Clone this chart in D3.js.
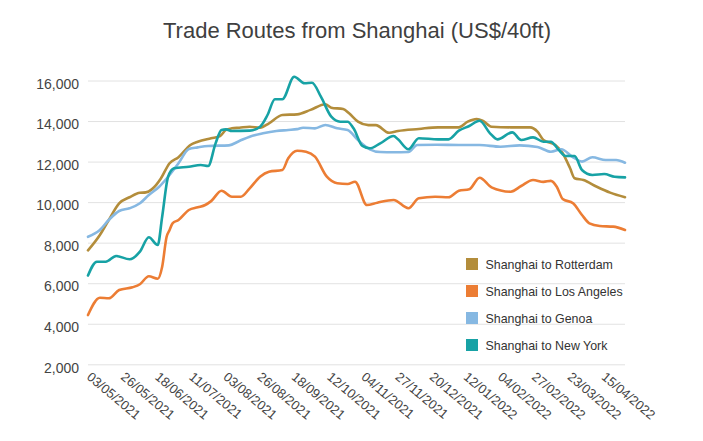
<!DOCTYPE html>
<html>
<head>
<meta charset="utf-8">
<script src="https://cdn.jsdelivr.net/npm/d3@7/dist/d3.min.js"></script>
<style>
  html, body { margin: 0; padding: 0; background: #fff; }
  svg { display: block; font-family: "Liberation Sans", Arial, sans-serif; }
</style>
</head>
<body>
<svg id="chart" width="703" height="441"></svg>
<script>
// ---------- DATA ----------
const chartTitle = "Trade Routes from Shanghai (US$/40ft)";
const seriesNames = ["Shanghai to Rotterdam", "Shanghai to Los Angeles", "Shanghai to Genoa", "Shanghai to New York"];
const seriesColors = ["#b38d3b", "#ec7d34", "#86b8e2", "#17a2a5"];

const xTickLabels = ["03/05/2021","26/05/2021","18/06/2021","11/07/2021","03/08/2021","26/08/2021","18/09/2021",
  "12/10/2021","04/11/2021","27/11/2021","20/12/2021","12/01/2022","04/02/2022","27/02/2022","23/03/2022","15/04/2022"];
const yTickValues = [2000, 4000, 6000, 8000, 10000, 12000, 14000, 16000];
const xDomain = ["2021-05-03", "2022-04-30"];

const rotterdamDates = ["2021-05-03","2021-05-11","2021-05-17","2021-05-24","2021-05-31","2021-06-07","2021-06-11","2021-06-15",
  "2021-06-18","2021-06-21","2021-06-27","2021-07-03","2021-07-11","2021-07-16","2021-07-25","2021-07-31","2021-08-04","2021-08-08",
  "2021-08-13","2021-08-20","2021-08-27","2021-09-02","2021-09-11","2021-09-21","2021-09-30","2021-10-10","2021-10-14","2021-10-22",
  "2021-10-26","2021-11-01","2021-11-08","2021-11-13","2021-11-22","2021-11-28","2021-12-12","2021-12-25","2022-01-08","2022-01-14",
  "2022-01-20","2022-01-24","2022-01-30","2022-02-12","2022-02-25","2022-03-02","2022-03-06","2022-03-14","2022-03-19","2022-03-24",
  "2022-03-27","2022-04-02","2022-04-11","2022-04-20","2022-04-30"];
const rotterdamValues = [7620,8380,9120,9940,10240,10460,10480,10630,
  10850,11150,11920,12220,12820,12980,13150,13260,13560,13640,
  13670,13720,13670,13890,14300,14330,14550,14830,14660,14590,
  14380,13970,13800,13800,13420,13510,13610,13690,13690,13970,
  14100,14020,13720,13690,13690,13480,13070,12820,12410,11670,
  11180,11090,10760,10470,10240];

const laDates = ["2021-05-03","2021-05-11","2021-05-17","2021-05-24","2021-06-02","2021-06-07","2021-06-13","2021-06-19",
  "2021-06-22","2021-06-25","2021-06-27","2021-06-29","2021-07-03","2021-07-10","2021-07-16","2021-07-21","2021-07-25","2021-08-01",
  "2021-08-08","2021-08-14","2021-08-20","2021-08-27","2021-09-02","2021-09-11","2021-09-15","2021-09-21","2021-09-27","2021-10-03",
  "2021-10-11","2021-10-18","2021-10-25","2021-10-30","2021-11-07","2021-11-14","2021-11-25","2021-12-05","2021-12-12","2021-12-23",
  "2022-01-01","2022-01-08","2022-01-15","2022-01-22","2022-01-30","2022-02-12","2022-02-19","2022-02-27","2022-03-06","2022-03-11",
  "2022-03-15","2022-03-19","2022-03-26","2022-04-01","2022-04-06","2022-04-13","2022-04-22","2022-04-30"];
const laValues = [4430,5285,5256,5665,5800,5950,6340,6220,
  6815,8290,8625,8955,9118,9612,9745,9860,10050,10564,
  10268,10268,10682,11254,11501,11585,12162,12537,12488,12241,
  11254,10929,10894,11008,9859,9973,10105,9700,10190,10268,
  10238,10564,10633,11205,10731,10515,10796,11092,11000,11050,
  10761,10154,9943,9365,8955,8822,8790,8625];

const genoaDates = ["2021-05-03","2021-05-11","2021-05-17","2021-05-24","2021-05-31","2021-06-07","2021-06-13","2021-06-20",
  "2021-06-27","2021-07-03","2021-07-10","2021-07-16","2021-07-23","2021-08-06","2021-08-13","2021-08-20","2021-08-29","2021-09-07",
  "2021-09-15","2021-09-21","2021-09-25","2021-10-03","2021-10-10","2021-10-18","2021-10-25","2021-11-01","2021-11-09","2021-11-16",
  "2021-11-25","2021-12-05","2021-12-11","2021-12-24","2022-01-08","2022-01-22","2022-02-05","2022-02-18","2022-03-02","2022-03-11",
  "2022-03-18","2022-03-26","2022-04-01","2022-04-08","2022-04-17","2022-04-24","2022-04-30"];
const genoaValues = [8290,8625,9118,9563,9696,9943,10352,10761,
  11338,11916,12620,12700,12770,12800,13015,13228,13395,13509,
  13558,13600,13672,13640,13805,13640,13560,13065,12606,12470,
  12460,12470,12818,12830,12818,12818,12735,12800,12720,12488,
  12606,12211,11998,12211,12078,12078,11945];

const nyDates = ["2021-05-03","2021-05-09","2021-05-15","2021-05-22","2021-05-31","2021-06-07","2021-06-13","2021-06-19",
  "2021-06-22","2021-06-26","2021-06-30","2021-07-10","2021-07-18","2021-07-23","2021-07-28","2021-08-01","2021-08-04","2021-08-08",
  "2021-08-20","2021-08-27","2021-09-01","2021-09-06","2021-09-11","2021-09-19","2021-09-26","2021-10-01","2021-10-07","2021-10-14",
  "2021-10-20","2021-10-25","2021-10-29","2021-11-04","2021-11-09","2021-11-16","2021-11-25","2021-11-28","2021-12-05","2021-12-12",
  "2021-12-25","2022-01-01","2022-01-08","2022-01-15","2022-01-22","2022-01-29","2022-02-03","2022-02-13","2022-02-19","2022-02-27",
  "2022-03-06","2022-03-11","2022-03-16","2022-03-21","2022-03-27","2022-04-01","2022-04-08","2022-04-16","2022-04-23","2022-04-30"];
const nyValues = [6380,7062,7062,7343,7180,7555,8265,7885,
  9282,11254,11669,11748,11832,11782,12900,13558,13590,13509,
  13525,13722,14298,15072,15072,16187,15862,15892,15201,14214,
  13968,13968,13642,12770,12656,12900,13262,13098,12606,13148,
  13098,13098,13525,13755,14017,13395,13098,13443,13065,13195,
  12982,12982,12606,12277,12277,11585,11338,11386,11254,11222];

// ---------- CHART ----------
const parseISO = d3.timeParse("%Y-%m-%d");
const parseLabel = d3.timeParse("%d/%m/%Y");
const formatLabel = d3.timeFormat("%d/%m/%Y");

const seriesDates = [rotterdamDates, laDates, genoaDates, nyDates];
const seriesValues = [rotterdamValues, laValues, genoaValues, nyValues];
const series = seriesNames.map((name, i) => ({
  name, color: seriesColors[i],
  points: seriesDates[i].map((d, j) => ({ date: parseISO(d), value: seriesValues[i][j] }))
}));

const svg = d3.select("#chart");
const plotLeft = 88, plotRight = 625, plotTop = 80.5, plotBottom = 364.3;

const x = d3.scaleTime().domain(xDomain.map(parseISO)).range([plotLeft, plotRight]);
const y = d3.scaleLinear().domain([2000, 16000]).range([plotBottom, plotTop]);

// title
svg.append("text")
  .attr("x", 357).attr("y", 38)
  .attr("text-anchor", "middle")
  .attr("font-size", 22)
  .attr("fill", "#404040")
  .text(chartTitle);

// y axis with gridlines
const yAxis = svg.append("g")
  .attr("transform", `translate(${plotLeft},0)`)
  .call(d3.axisLeft(y).tickValues(yTickValues).tickFormat(d3.format(","))
    .tickSize(-(plotRight - plotLeft)).tickPadding(9));
yAxis.select(".domain").remove();
yAxis.selectAll(".tick line").attr("stroke", "#e2e2e2").attr("stroke-width", 1);
yAxis.selectAll(".tick text")
  .attr("font-size", 14).attr("fill", "#444")
  .attr("font-family", "Liberation Sans, Arial, sans-serif")
  .attr("dy", "0.55em");

// x axis
const xAxis = svg.append("g")
  .attr("transform", `translate(0,${plotBottom})`)
  .call(d3.axisBottom(x).tickValues(xTickLabels.map(parseLabel)).tickFormat(formatLabel).tickSize(0));
xAxis.select(".domain").remove();
xAxis.selectAll(".tick text")
  .attr("font-size", 13).attr("fill", "#444")
  .attr("font-family", "Liberation Sans, Arial, sans-serif")
  .attr("x", 0).attr("y", 0).attr("dy", 0)
  .attr("text-anchor", "start")
  .attr("transform", "translate(-2.5,14) rotate(40)");

// lines
const line = d3.line()
  .x(d => x(d.date))
  .y(d => y(d.value))
  .curve(d3.curveMonotoneX);

svg.append("g").selectAll("path")
  .data(series)
  .join("path")
  .attr("fill", "none")
  .attr("stroke", d => d.color)
  .attr("stroke-width", 2.6)
  .attr("stroke-linejoin", "round")
  .attr("stroke-linecap", "round")
  .attr("d", d => line(d.points));

// legend
const legend = svg.append("g").attr("transform", "translate(466,264)");
const items = legend.selectAll("g").data(series).join("g")
  .attr("transform", (d, i) => `translate(0,${i * 27})`);
items.append("rect")
  .attr("x", 0).attr("y", -6).attr("width", 12).attr("height", 12)
  .attr("fill", d => d.color);
items.append("text")
  .attr("x", 19.5).attr("y", 4.5)
  .attr("font-size", 12.4).attr("fill", "#333")
  .text(d => d.name);
</script>
</body>
</html>
